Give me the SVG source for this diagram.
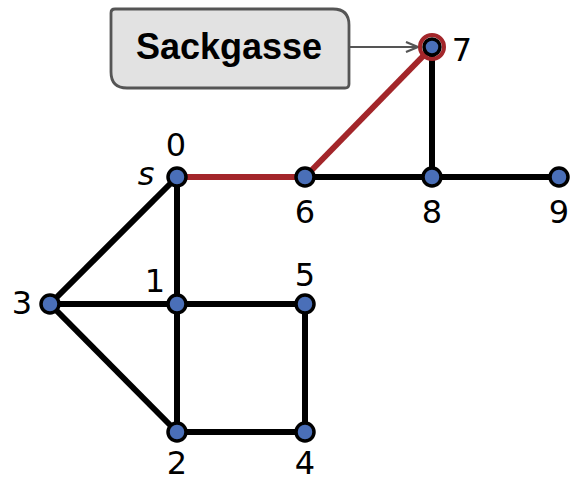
<svg xmlns="http://www.w3.org/2000/svg" width="572" height="479" viewBox="0 0 572 479">
<defs>
<style>
.e{stroke:#000;stroke-width:6;fill:none}
.r{stroke:#a3262a;stroke-width:6;fill:none}
.n{fill:#4a6fb8;stroke:#000;stroke-width:3.5}
.l{font-family:"DejaVu Sans",sans-serif;font-size:32px;fill:#000;text-anchor:middle}
</style>
<marker id="ah" markerWidth="14" markerHeight="12" refX="13" refY="6" orient="auto" markerUnits="userSpaceOnUse">
<path d="M1,1 L13,6 L1,11" fill="none" stroke="#555" stroke-width="2.2"/>
</marker>
</defs>
<g id="connectors">
<line class="e" x1="432" y1="47" x2="432" y2="177"/>
<line class="e" x1="305" y1="177" x2="559" y2="177"/>
<line class="e" x1="177" y1="177" x2="50" y2="304"/>
<line class="e" x1="177" y1="177" x2="177" y2="432"/>
<line class="e" x1="50" y1="304" x2="305" y2="304"/>
<line class="e" x1="50" y1="304" x2="177" y2="432"/>
<line class="e" x1="305" y1="304" x2="305" y2="432"/>
<line class="e" x1="177" y1="432" x2="305" y2="432"/>
<line class="r" x1="177" y1="177" x2="305" y2="177"/>
<line class="r" x1="305" y1="177" x2="432" y2="47"/>
<line x1="349" y1="47" x2="418" y2="47" stroke="#555" stroke-width="2.2" marker-end="url(#ah)"/>
</g>
<g id="callout">
<path d="M115,9 H333 Q349,9 349,25 V84 Q349,88 345,88 H127 Q111,88 111,72 V13 Q111,9 115,9 Z" fill="#e2e2e2" stroke="#555" stroke-width="2.8"/>
<text x="229" y="59" font-family="Liberation Sans,Arial,sans-serif" font-weight="bold" font-size="36" text-anchor="middle">Sackgasse</text>
</g>
<g id="n0"><circle class="n" cx="177" cy="177" r="9"/><text class="l" x="176" y="156">0</text><text class="l" x="146" y="185" font-style="italic" font-size="34">s</text></g>
<g id="n1"><circle class="n" cx="177" cy="304" r="9"/><text class="l" x="155" y="292">1</text></g>
<g id="n2"><circle class="n" cx="177" cy="432" r="9"/><text class="l" x="177" y="474">2</text></g>
<g id="n3"><circle class="n" cx="50" cy="304" r="9"/><text class="l" x="22" y="314">3</text></g>
<g id="n4"><circle class="n" cx="305" cy="432" r="9"/><text class="l" x="305" y="474">4</text></g>
<g id="n5"><circle class="n" cx="305" cy="304" r="9"/><text class="l" x="305" y="286">5</text></g>
<g id="n6"><circle class="n" cx="305" cy="177" r="9"/><text class="l" x="305" y="223">6</text></g>
<g id="n7"><circle cx="432" cy="47" r="12" fill="none" stroke="#a3262a" stroke-width="4"/><circle class="n" cx="432" cy="47" r="8"/><text class="l" x="462" y="61">7</text></g>
<g id="n8"><circle class="n" cx="432" cy="177" r="9"/><text class="l" x="432" y="223">8</text></g>
<g id="n9"><circle class="n" cx="559" cy="177" r="9"/><text class="l" x="559" y="223">9</text></g>
</svg>
